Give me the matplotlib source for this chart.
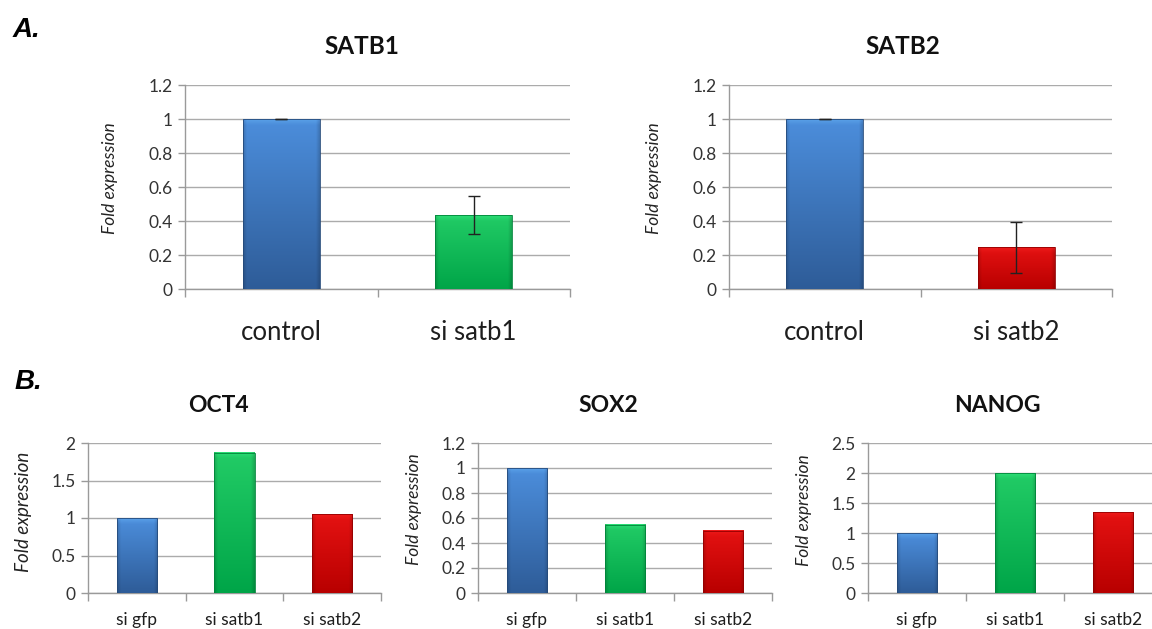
import numpy as np
import matplotlib
matplotlib.use("Agg")
import matplotlib.pyplot as plt
from matplotlib.colors import to_rgb

plt.rcParams['font.family'] = ['Lato', 'DejaVu Sans']

# ---- data -------------------------------------------------------------
satb1_labels = ["control", "si satb1"]
satb1_values = [1.0, 0.435]
satb1_errors = [0.002, 0.11]

satb2_labels = ["control", "si satb2"]
satb2_values = [1.0, 0.245]
satb2_errors = [0.002, 0.15]

marker_labels = ["si gfp", "si satb1", "si satb2"]
oct4_values = [1.0, 1.87, 1.05]
sox2_values = [1.0, 0.545, 0.50]
nanog_values = [1.0, 2.0, 1.35]

# ---- styling ----------------------------------------------------------
BLUE = ("#4C8EDC", "#2E5C98")
GREEN = ("#22CC66", "#00A548")
RED = ("#E51212", "#B80000")
GRID = "#ABABAB"
AXIS = "#9A9A9A"
TICKTXT = "#333333"

W, H = 1152, 629
fig = plt.figure(figsize=(W / 100, H / 100), dpi=100)


def px_axes(left, top, right, bottom):
    return fig.add_axes([left / W, 1 - bottom / H, (right - left) / W, (bottom - top) / H])


def shade_bars(ax, bars, colors):
    """Paint each bar with a vertical gradient and softly bevelled edges."""
    top_c, bot_c = np.array(to_rgb(colors[0])), np.array(to_rgb(colors[1]))
    for rect in bars:
        x0, w, h = rect.get_x(), rect.get_width(), rect.get_height()
        p0 = ax.transData.transform((x0, 0))
        p1 = ax.transData.transform((x0 + w, h))
        hpx, wpx = max(p1[1] - p0[1], 1), max(p1[0] - p0[0], 1)
        ny, nx = 300, 80
        t = np.linspace(0, 1, ny)[:, None, None]
        img = top_c * (1 - t) + bot_c * t
        img = np.repeat(img, nx, axis=1)
        xs = (np.arange(nx) + 0.5) / nx * wpx
        edge = np.minimum(xs, wpx - xs)
        fac = np.where(edge < 4, 0.82 + 0.045 * edge, 1.0)
        img = img * fac[None, :, None]
        ys = (np.arange(ny) + 0.5) / ny * hpx
        glow = np.clip(1 - ys / 6.0, 0, 1)[:, None, None]
        img = img * (1 - 0.35 * glow) + 0.35 * glow * np.minimum(img * 1.25 + 0.08, 1)
        ax.imshow(np.clip(img, 0, 1), extent=(x0, x0 + w, 0, h), origin="upper",
                  aspect="auto", interpolation="bilinear", zorder=3)
        rect.set_facecolor("none")
        rect.set_edgecolor(tuple(bot_c * 0.8))
        rect.set_linewidth(0.6)
        rect.set_zorder(4)


def style_axes(ax, labels, ymax, ystep, tick_fs, xlab_fs, xpad):
    n = len(labels)
    ax.set_xlim(-0.5, n - 0.5)
    ax.set_ylim(0, ymax)
    ticks = np.round(np.arange(0, ymax + 1e-9, ystep), 2)
    ax.set_yticks(ticks)
    ax.set_yticklabels([f"{v:g}" for v in ticks])
    ax.yaxis.grid(True, color=GRID, linewidth=1.0, zorder=0)
    ax.set_axisbelow(True)
    for s in ("top", "right"):
        ax.spines[s].set_visible(False)
    for s in ("left", "bottom"):
        ax.spines[s].set_color(AXIS)
        ax.spines[s].set_linewidth(1.0)
    ax.set_xticks(range(n))
    ax.set_xticklabels(labels, fontsize=xlab_fs, color="#1E1E1E")
    ax.set_xticks(np.arange(-0.5, n, 1.0), minor=True)
    ax.tick_params(axis="x", which="major", length=0, pad=xpad)
    ax.tick_params(axis="x", which="minor", length=6, color=AXIS, width=1.0)
    ax.tick_params(axis="y", length=5, color=AXIS, width=1.0, labelsize=tick_fs,
                   labelcolor=TICKTXT, pad=4)


def draw_panel(ax, labels, values, colors, ymax, ystep, width, title, title_xy,
               ylab_xy, ylab_fs, tick_fs, xlab_fs, title_fs, xpad, errors=None):
    style_axes(ax, labels, ymax, ystep, tick_fs, xlab_fs, xpad)
    x = np.arange(len(labels))
    for i in range(len(labels)):
        bars = ax.bar(x[i], values[i], width=width, zorder=3)
        shade_bars(ax, bars, colors[i])
    if errors is not None:
        ax.errorbar(x, values, yerr=errors, fmt="none", ecolor="#222222",
                    elinewidth=1.0, capsize=4, capthick=1.0, zorder=6)
    ax.set_xlim(-0.5, len(labels) - 0.5)
    ax.set_ylim(0, ymax)
    ax.set_ylabel("Fold expression", fontsize=ylab_fs, style="italic", color="#222222")
    ax.yaxis.set_label_coords(*ylab_xy)
    fig.text(title_xy[0] / W, 1 - title_xy[1] / H, title, fontsize=title_fs,
             fontweight="bold", ha="center", va="center", color="#111111")


# ---- panel A ----------------------------------------------------------
ax1 = px_axes(185, 85, 570, 289)
draw_panel(ax1, satb1_labels, satb1_values, [BLUE, GREEN], 1.2, 0.2, 0.4,
           "SATB1", (362, 47), (-0.175, 0.545), 12.5, 12.5, 18.5, 17.5, 22,
           errors=satb1_errors)

ax2 = px_axes(729, 85, 1112, 289)
draw_panel(ax2, satb2_labels, satb2_values, [BLUE, RED], 1.2, 0.2, 0.4,
           "SATB2", (903, 47), (-0.175, 0.545), 12.5, 12.5, 18.5, 17.5, 22,
           errors=satb2_errors)

# ---- panel B ----------------------------------------------------------
ax3 = px_axes(88, 443, 381, 593)
draw_panel(ax3, marker_labels, oct4_values, [BLUE, GREEN, RED], 2.0, 0.5, 0.41,
           "OCT4", (218, 405), (-0.19, 0.54), 13.5, 12.5, 12.5, 16.5, 14)

ax4 = px_axes(478, 443, 772, 593)
draw_panel(ax4, marker_labels, sox2_values, [BLUE, GREEN, RED], 1.2, 0.2, 0.41,
           "SOX2", (608, 405), (-0.19, 0.56), 12.5, 12.5, 12.5, 16.5, 14)

ax5 = px_axes(868, 443, 1162, 593)
draw_panel(ax5, marker_labels, nanog_values, [BLUE, GREEN, RED], 2.5, 0.5, 0.41,
           "NANOG", (997, 405), (-0.19, 0.555), 12.5, 12.5, 12.5, 16.5, 14)

# ---- panel letters ----------------------------------------------------
fig.text(13 / W, 1 - 30 / H, "A.", fontsize=20, fontweight="bold", style="italic",
         family="Liberation Sans", ha="left", va="center")
fig.text(15 / W, 1 - 382 / H, "B.", fontsize=20, fontweight="bold", style="italic",
         family="Liberation Sans", ha="left", va="center")

fig.savefig("out.png", dpi=100)
